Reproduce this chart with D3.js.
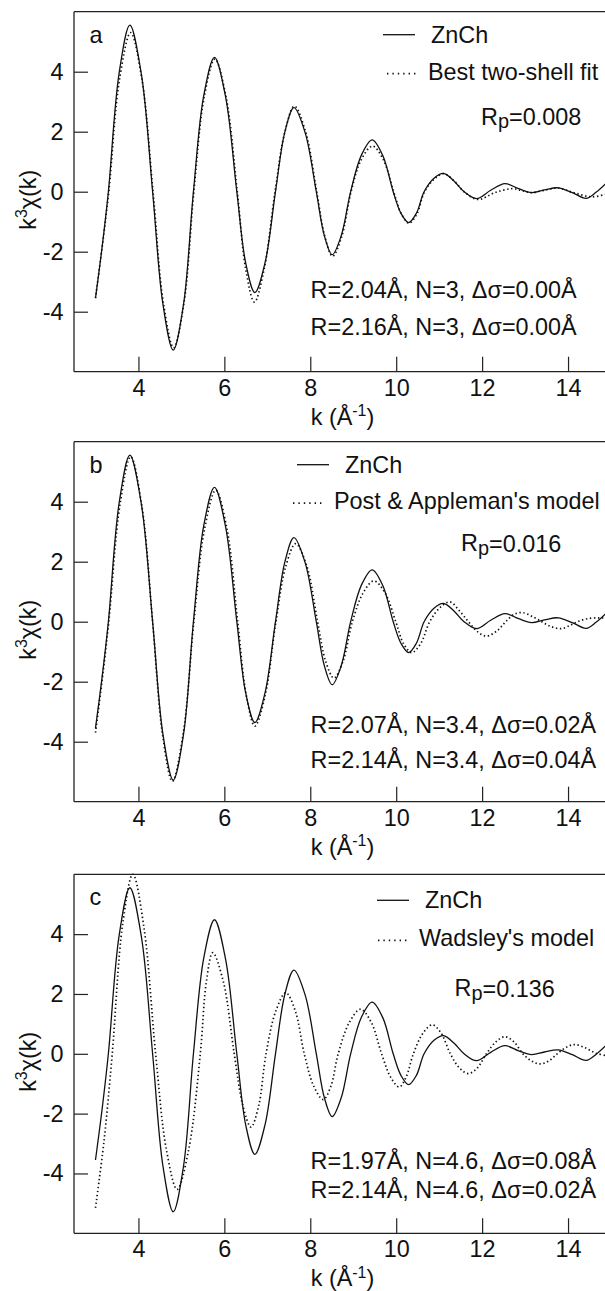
<!DOCTYPE html>
<html>
<head>
<meta charset="utf-8">
<script src="https://cdn.jsdelivr.net/npm/d3@7"></script>
<style>
  html, body { margin: 0; padding: 0; background: #fff; }
  svg { display: block; }
  text { font-family: "Liberation Sans", Arial, Helvetica, sans-serif; fill: #111; }
</style>
</head>
<body>
<svg id="fig" width="605" height="1291"></svg>
<script>
// k-axis samples (Å^-1) and k^3·chi(k) values for the measured ZnCh spectrum
const kZnCh = [3.00, 3.15, 3.30, 3.55, 3.80, 4.07, 4.33, 4.57, 4.81, 5.05, 5.28, 5.52, 5.77, 6.03, 6.29,
  6.50, 6.71, 6.95, 7.19, 7.41, 7.62, 7.88, 8.14, 8.33, 8.51, 8.72, 8.94, 9.19, 9.44, 9.69, 9.93,
  10.11, 10.29, 10.47, 10.65, 10.88, 11.10, 11.35, 11.58, 11.87, 12.20, 12.53, 12.85, 13.15, 13.45,
  13.77, 14.10, 14.42, 14.65, 14.90];
const chiZnCh = [-3.55, -1.90, 0, 3.95, 5.55, 3.90, 0, -3.75, -5.28, -3.75, 0, 3.20, 4.48, 3.15, 0,
  -2.40, -3.36, -2.35, 0, 2.00, 2.80, 1.97, 0, -1.48, -2.10, -1.47, 0, 1.22, 1.73, 1.20, 0,
  -0.72, -1.03, -0.72, 0, 0.45, 0.61, 0.35, 0, -0.23, 0.05, 0.27, 0.10, -0.03, 0.06,
  0.13, -0.03, -0.22, -0.02, 0.30];

// best two-shell fit
const kBestFit = [3.00, 3.15, 3.31, 3.56, 3.82, 4.08, 4.34, 4.58, 4.82, 5.06, 5.29, 5.53, 5.78, 6.04, 6.30,
  6.50, 6.70, 6.93, 7.18, 7.41, 7.63, 7.89, 8.15, 8.34, 8.52, 8.73, 8.95, 9.19, 9.45, 9.70, 9.94,
  10.12, 10.30, 10.48, 10.66, 10.89, 11.11, 11.36, 11.58, 11.90, 12.30, 12.69, 12.92, 13.15, 13.45,
  13.77, 14.15, 14.55, 14.90];
const chiBestFit = [-3.55, -1.90, 0, 3.75, 5.30, 3.75, 0, -3.70, -5.20, -3.70, 0, 3.15, 4.42, 3.15, 0,
  -2.60, -3.68, -2.55, 0, 2.00, 2.85, 2.00, 0, -1.50, -2.15, -1.50, 0, 1.08, 1.52, 1.07, 0,
  -0.74, -1.05, -0.74, 0, 0.43, 0.60, 0.34, 0, -0.26, -0.03, 0.10, 0.04, -0.03, 0.05,
  0.12, -0.04, -0.17, -0.08];

// Post & Appleman's structural model
const kPostAppleman = [3.00, 3.15, 3.31, 3.57, 3.82, 4.08, 4.33, 4.56, 4.79, 5.04, 5.29, 5.54, 5.80, 6.06, 6.31,
  6.51, 6.71, 6.95, 7.20, 7.43, 7.66, 7.92, 8.17, 8.36, 8.55, 8.76, 8.98, 9.23, 9.48, 9.74, 9.99,
  10.17, 10.36, 10.57, 10.78, 11.02, 11.25, 11.48, 11.68, 11.90, 12.10, 12.35, 12.55, 12.75, 12.95,
  13.20, 13.42, 13.62, 13.85, 14.05, 14.22, 14.45, 14.74, 14.90];
const chiPostAppleman = [-3.70, -2.00, 0, 3.90, 5.50, 3.85, 0, -3.75, -5.32, -3.75, 0, 3.10, 4.38, 3.10, 0,
  -2.45, -3.48, -2.45, 0, 1.85, 2.60, 1.85, 0, -1.33, -1.88, -1.33, 0, 0.96, 1.36, 0.96, 0,
  -0.73, -1.03, -0.73, 0, 0.47, 0.66, 0.35, 0, -0.34, -0.48, -0.30, 0, 0.25, 0.30,
  0.15, -0.03, -0.17, -0.23, -0.12, 0, 0.10, 0.13, 0.12];

// Wadsley's structural model
const kWadsley = [3.00, 3.20, 3.39, 3.63, 3.87, 4.13, 4.40, 4.65, 4.90, 5.17, 5.44, 5.58, 5.73, 5.98, 6.23,
  6.43, 6.62, 6.80, 6.97, 7.20, 7.43, 7.65, 7.86, 8.08, 8.30, 8.48, 8.65, 8.91, 9.17, 9.42, 9.66,
  9.87, 10.07, 10.23, 10.40, 10.62, 10.84, 11.05, 11.26, 11.47, 11.68, 11.89, 12.10, 12.32, 12.53,
  12.74, 12.95, 13.15, 13.35, 13.55, 13.75, 13.96, 14.16, 14.40, 14.65, 14.90];
const chiWadsley = [-5.15, -2.90, 0, 4.30, 6.00, 4.20, 0, -3.20, -4.53, -3.20, 0, 2.40, 3.38, 2.39, 0,
  -1.73, -2.45, -1.73, 0, 1.44, 2.04, 1.44, 0, -1.08, -1.53, -1.08, 0, 1.05, 1.49, 1.05, 0,
  -0.78, -1.11, -0.78, 0, 0.68, 0.97, 0.68, 0, -0.47, -0.66, -0.47, 0, 0.40, 0.57,
  0.40, 0, -0.24, -0.34, -0.24, 0, 0.22, 0.31, 0.20, 0.02, -0.06];

// axis ticks
const xTicks = [4, 6, 8, 10, 12, 14];
const yTicks = [-4, -2, 0, 2, 4];

// panel text
const panelLetters = ["a", "b", "c"];
const modelNames = ["Best two-shell fit", "Post & Appleman's model", "Wadsley's model"];
const rpValues = ["0.008", "0.016", "0.136"];
const shellLine1 = ["R=2.04Å, N=3, Δσ=0.00Å", "R=2.07Å, N=3.4, Δσ=0.02Å", "R=1.97Å, N=4.6, Δσ=0.08Å"];
const shellLine2 = ["R=2.16Å, N=3, Δσ=0.00Å", "R=2.14Å, N=3.4, Δσ=0.04Å", "R=2.14Å, N=4.6, Δσ=0.02Å"];

const modelK = [kBestFit, kPostAppleman, kWadsley];
const modelChi = [chiBestFit, chiPostAppleman, chiWadsley];

// layout of the three stacked panels
const FS = 23.4;
const left = 74, right = 611;
const layout = [
  { top: 11.7, bottom: 371.7, legX: 383, legDotX: 387, legY: 23, legDotY: 60, rpX: 481, rpY: 105, sh1: 278, sh2: 315 },
  { top: 441.7, bottom: 801.7, legX: 297, legDotX: 293, legY: 23, legDotY: 59.5, rpX: 461, rpY: 101.6, sh1: 283, sh2: 318 },
  { top: 874.3, bottom: 1233.3, legX: 377, legDotX: 378, legY: 26, legDotY: 64, rpX: 454.5, rpY: 114, sh1: 287, sh2: 316 }
];

const svg = d3.select("#fig");
const defs = svg.append("defs");

const DOTS = "1.4,2.6";
const plainNumber = d => String(d);   // hyphen-minus, as typeset on the figure

layout.forEach((L, i) => {
  const x = d3.scaleLinear().domain([2.5, 15]).range([left, right]);
  const y = d3.scaleLinear().domain([-6, 6]).range([L.bottom, L.top]);
  const g = svg.append("g");

  defs.append("clipPath").attr("id", "clip" + i)
    .append("rect").attr("x", left).attr("y", L.top - 2)
    .attr("width", right - left).attr("height", L.bottom - L.top + 2);

  // frame: top edge
  g.append("line").attr("x1", left).attr("x2", right).attr("y1", L.top).attr("y2", L.top)
    .attr("stroke", "#222").attr("stroke-width", 1.3);

  // axes with inward ticks
  const xAxis = d3.axisBottom(x).tickValues(xTicks).tickFormat(plainNumber)
    .tickSizeInner(-15).tickSizeOuter(0).tickPadding(7.5);
  const yAxis = d3.axisLeft(y).tickValues(yTicks).tickFormat(plainNumber)
    .tickSizeInner(-14).tickSizeOuter(0).tickPadding(10.5);
  const gx = g.append("g").attr("transform", `translate(0,${L.bottom})`).call(xAxis);
  const gy = g.append("g").attr("transform", `translate(${left},0)`).call(yAxis);
  [gx, gy].forEach(a => {
    a.select(".domain").attr("stroke", "#222").attr("stroke-width", 1.3);
    a.selectAll(".tick line").attr("stroke", "#222").attr("stroke-width", 1.2);
    a.selectAll(".tick text").attr("font-size", FS).attr("fill", "#111")
      .attr("font-family", "'Liberation Sans', Arial, sans-serif");
  });
  gx.select(".domain").attr("d", `M${left},0H${right}`);
  gy.select(".domain").attr("d", `M0,${L.top}V${L.bottom}`);

  // axis titles
  const yt = g.append("text")
    .attr("transform", `translate(28,${(L.top + L.bottom) / 2 + 8}) rotate(-90)`)
    .attr("text-anchor", "middle").attr("dy", "0.35em").attr("font-size", FS);
  yt.append("tspan").text("k");
  yt.append("tspan").attr("font-size", FS * 0.68).attr("dy", "-0.55em").text("3");
  yt.append("tspan").attr("dy", "0.37em").text("χ(k)");

  const xt = g.append("text")
    .attr("x", (left + right) / 2).attr("y", L.bottom + 45).attr("dy", "0.35em")
    .attr("text-anchor", "middle").attr("font-size", FS);
  xt.append("tspan").text("k (Å");
  xt.append("tspan").attr("font-size", FS * 0.68).attr("dy", "-0.55em").text("-1");
  xt.append("tspan").attr("dy", "0.37em").text(")");

  // curves
  const line = d3.line().x(d => x(d[0])).y(d => y(d[1])).curve(d3.curveCatmullRom.alpha(0.5));
  const exp = d3.zip(kZnCh, chiZnCh);
  const mod = d3.zip(modelK[i], modelChi[i]);
  const cg = g.append("g").attr("clip-path", `url(#clip${i})`);
  cg.append("path").attr("d", line(exp)).attr("fill", "none")
    .attr("stroke", "#111").attr("stroke-width", 1.3);
  cg.append("path").attr("d", line(mod)).attr("fill", "none")
    .attr("stroke", "#111").attr("stroke-width", 1.7).attr("stroke-dasharray", DOTS);

  // panel letter
  g.append("text").attr("x", 89.5).attr("y", L.top + 23).attr("dy", "0.35em")
    .attr("font-size", FS).text(panelLetters[i]);

  // legend
  g.append("line").attr("x1", L.legX).attr("x2", L.legX + 32)
    .attr("y1", L.top + L.legY).attr("y2", L.top + L.legY)
    .attr("stroke", "#111").attr("stroke-width", 1.3);
  g.append("text").attr("x", L.legX + 48).attr("y", L.top + L.legY).attr("dy", "0.35em")
    .attr("font-size", FS).text("ZnCh");
  g.append("line").attr("x1", L.legDotX).attr("x2", L.legDotX + 32)
    .attr("y1", L.top + L.legDotY + 2).attr("y2", L.top + L.legDotY + 2)
    .attr("stroke", "#111").attr("stroke-width", 1.7).attr("stroke-dasharray", "1.4,4");
  g.append("text").attr("x", L.legDotX + 41).attr("y", L.top + L.legDotY).attr("dy", "0.35em")
    .attr("font-size", FS).text(modelNames[i]);

  // reliability factor
  const rp = g.append("text").attr("x", L.rpX).attr("y", L.top + L.rpY).attr("dy", "0.35em")
    .attr("font-size", FS);
  rp.append("tspan").text("R");
  rp.append("tspan").attr("font-size", FS * 0.85).attr("dy", "0.18em").text("p");
  rp.append("tspan").attr("dy", "-0.15em").text("=" + rpValues[i]);

  // shell parameters
  g.append("text").attr("x", 310.6).attr("y", L.top + L.sh1).attr("dy", "0.35em")
    .attr("font-size", FS).text(shellLine1[i]);
  g.append("text").attr("x", 310.6).attr("y", L.top + L.sh2).attr("dy", "0.35em")
    .attr("font-size", FS).text(shellLine2[i]);
});
</script>
</body>
</html>
